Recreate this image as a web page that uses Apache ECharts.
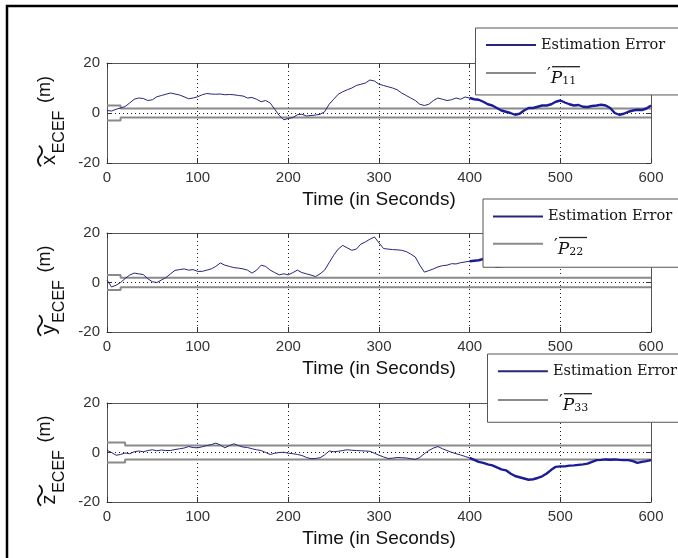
<!DOCTYPE html>
<html><head><meta charset="utf-8">
<script src="https://cdn.jsdelivr.net/npm/echarts@6/dist/echarts.min.js"></script>
<style>html,body{margin:0;padding:0;background:#fff}#c{width:678px;height:558px}</style>
</head><body><div id="c"></div>
<script>
// ---- data ----
const xTicks = [0, 100, 200, 300, 400, 500, 600];
const yTicks = [-20, 0, 20];
const timeSec = [
  0,5,10,15,20,25,30,35,40,45,
  50,55,60,65,70,75,80,85,90,95,
  100,105,110,115,120,125,130,135,140,145,
  150,155,160,165,170,175,180,185,190,195,
  200,205,210,215,220,225,230,235,240,245,
  250,255,260,265,270,275,280,285,290,295,
  300,305,310,315,320,325,330,335,340,345,
  350,355,360,365,370,375,380,385,390,395,
  400,405,410,415,420,425,430,435,440,445,
  450,455,460,465,470,475,480,485,490,495,
  500,505,510,515,520,525,530,535,540,545,
  550,555,560,565,570,575,580,585,590,595,
  600
];
const errX = [
  1.0,0.8,1.5,2.0,2.6,4.0,5.5,6.0,5.8,5.0,
  5.3,6.5,7.0,7.5,8.0,7.6,7.2,6.5,5.7,6.0,
  6.5,7.3,7.8,7.6,7.5,7.6,7.3,7.4,7.3,7.0,
  6.8,6.0,6.2,5.5,4.5,5.0,4.0,1.5,-1.0,-2.7,
  -2.2,-1.8,-0.7,-0.5,-1.2,-1.0,-0.8,-0.5,0.5,3.5,
  5.5,7.5,8.5,9.3,10.0,11.0,11.5,12.0,13.2,12.8,
  11.5,11.0,10.5,10.0,9.3,8.0,7.0,6.0,5.0,3.5,
  3.0,3.5,5.0,6.0,5.5,5.0,5.3,6.0,5.5,6.4,
  6.0,5.5,5.3,4.5,3.5,3.0,2.0,1.0,0.5,0.0,
  -0.7,-0.3,1.0,2.0,2.0,2.5,3.0,3.0,3.5,4.5,
  5.0,4.2,3.5,3.0,3.2,2.5,2.4,2.8,3.0,3.3,
  3.0,2.0,0.0,-0.7,-0.3,0.5,1.0,1.3,1.2,1.8,
  3.0
];
const errY = [
  1.0,-1.8,-1.1,0.0,1.6,3.0,3.8,3.5,3.2,1.5,
  0.3,0.0,1.0,2.0,3.5,4.9,5.2,5.5,5.0,5.2,
  4.5,4.5,5.0,5.5,6.5,7.9,7.0,6.5,6.0,5.8,
  5.5,5.0,3.8,5.0,7.0,6.5,5.0,4.0,3.1,3.5,
  3.1,4.0,5.0,4.0,3.5,3.0,2.4,3.5,5.0,8.0,
  11.0,13.5,15.0,14.0,13.0,13.5,15.5,16.4,17.5,18.4,
  16.0,13.7,13.5,13.3,13.2,13.0,12.5,11.5,10.3,7.0,
  4.2,4.8,5.5,6.3,6.8,7.0,7.6,7.5,8.0,8.3,
  8.6,8.8,9.0,9.5,9.0,7.0,6.3,6.5,6.8,7.0,
  8.0,8.5,9.0,9.3,9.5,9.8,10.0,9.8,9.5,9.8,
  10.0,9.5,9.0,8.8,8.5,8.8,9.0,9.3,9.5,9.8,
  10.0,9.5,9.0,8.8,8.5,8.8,9.0,9.3,9.5,9.2,
  9.0
];
const errZ = [
  0.9,0.0,-1.1,-0.8,-0.2,-0.5,0.3,0.6,0.3,0.8,
  1.1,0.7,1.0,0.8,0.8,1.2,1.5,1.8,2.4,2.0,
  1.9,2.3,2.8,3.2,3.8,3.0,1.9,2.8,3.5,2.8,
  2.2,2.0,1.5,1.1,0.8,0.0,-0.8,-0.3,0.0,0.1,
  -0.3,-0.5,-0.8,-1.2,-2.0,-2.5,-2.4,-2.1,-1.0,0.6,
  0.3,0.5,0.8,1.1,0.9,0.8,0.7,0.6,0.5,-0.3,
  -1.1,-1.8,-2.4,-2.3,-2.0,-2.1,-2.2,-2.5,-2.8,-2.0,
  -0.5,0.8,1.8,2.4,1.5,0.8,0.1,-0.5,-1.0,-1.6,
  -2.2,-3.0,-3.8,-4.2,-4.8,-5.2,-6.0,-6.8,-7.2,-8.5,
  -9.5,-10.0,-10.5,-11.0,-10.8,-10.3,-9.6,-8.5,-7.0,-5.8,
  -5.6,-5.6,-5.3,-5.2,-5.0,-4.8,-4.5,-3.8,-3.1,-3.0,
  -2.8,-2.9,-2.8,-3.0,-3.1,-3.1,-3.5,-4.2,-3.8,-3.5,
  -3.1
];
// sqrt(P) bound (step changes after initial convergence)
const boundTimeX = [0, 15, 600];
const boundX = [3.0, 1.8, 1.8];
const boundTimeY = [0, 15, 600];
const boundY = [3.0, 1.9, 1.9];
const boundTimeZ = [0, 20, 600];
const boundZ = [4.0, 2.8, 2.8];
const axisLetters = ['x', 'y', 'z'];
const boundNames = ['√P11', '√P22', '√P33'];
const boundSubs = ['11', '22', '33'];
const errName = 'Estimation Error';
const xTitle = 'Time (in Seconds)';
const thickFrom = 80; // index of t=400, after which the trace is drawn heavier

// ---- layout ----
const grids = [
  {left: 107, top: 63, width: 544, height: 100},
  {left: 107, top: 233, width: 544, height: 99},
  {left: 107, top: 403, width: 544, height: 99}
];
const legendPos = [
  {left: 475.5, top: 28, padding: [9, 60, 7.4, 9.5], itemGap: 10.7},
  {left: 483, top: 199, padding: [9.5, 60, 8.9, 9], itemGap: 10},
  {left: 487.5, top: 354, padding: [9.3, 60, 7.7, 9.4], itemGap: 11.4}
];

const errs = [errX, errY, errZ];
const bTimes = [boundTimeX, boundTimeY, boundTimeZ];
const bVals = [boundX, boundY, boundZ];

const sans = 'Liberation Sans, Arial, sans-serif';
const serif = 'DejaVu Serif, serif';
const cjk = 'Noto Sans CJK JP, sans-serif';
const hidden = {opacity: 0, color: 'rgba(0,0,0,0)', borderWidth: 0};
const ink = '#111';
const clear = 'rgba(0,0,0,0)';

const yNameRich = {
  p0: {fontSize: 4, width: 4, height: 5, lineHeight: 5, color: clear},
  t:  {fontSize: 24, width: 12, align: 'center', height: 0.4, lineHeight: 5, verticalAlign: 'bottom', fontFamily: cjk, color: ink},
  r1: {fontSize: 4, width: 76, height: 5, lineHeight: 5, color: clear},
  x:  {fontSize: 20, width: 12, align: 'center', height: 20, lineHeight: 20, fontFamily: sans, color: ink},
  s:  {fontSize: 16, width: 44, height: 1, lineHeight: 1, verticalAlign: 'bottom', fontFamily: sans, color: ink},
  m:  {fontSize: 18, width: 36, height: 10, lineHeight: 10, verticalAlign: 'top', fontFamily: sans, color: ink}
};
const legendRich = {
  e:  {width: 4, height: 2, lineHeight: 2, fontSize: 2, color: clear},
  g:  {width: 11, height: 6, lineHeight: 6, fontSize: 6, color: clear},
  ol: {width: 28, height: 1.3, lineHeight: 6, verticalAlign: 'top', backgroundColor: '#222', fontSize: 6, color: clear},
  g2: {width: 6, height: 10, lineHeight: 10, fontSize: 8, color: clear},
  pr: {fontSize: 17, height: 6, lineHeight: 6, verticalAlign: 'top', fontFamily: serif, color: ink},
  p:  {fontSize: 17, height: 6, lineHeight: 6, verticalAlign: 'bottom', fontStyle: 'italic', fontFamily: serif, color: ink},
  s:  {fontSize: 11, height: 1, lineHeight: 1, verticalAlign: 'bottom', fontFamily: serif, color: ink}
};

const xAxes = [], yAxes = [], series = [], legends = [];
grids.forEach((g, i) => {
  xAxes.push({
    gridIndex: i, type: 'value', min: 0, max: 600, interval: 100, position: 'bottom',
    axisLine: {show: true, onZero: false, lineStyle: {color: '#555', width: 1}},
    axisTick: {show: true, inside: true, length: 5, lineStyle: {color: '#333'}},
    axisLabel: {color: '#333', fontSize: 15, fontFamily: sans, margin: 7,
      customValues: xTicks, formatter: v => String(v)},
    splitLine: {show: true, lineStyle: {type: [1, 3], color: '#222', width: 1}},
    name: xTitle, nameLocation: 'middle', nameGap: 27,
    nameTextStyle: {color: ink, fontSize: 19, fontFamily: sans}
  });
  xAxes.push({
    gridIndex: i, type: 'value', min: 0, max: 600, interval: 100, position: 'top',
    axisLine: {show: true, onZero: false, lineStyle: {color: '#555', width: 1}},
    axisTick: {show: true, inside: true, length: 5, lineStyle: {color: '#333'}},
    axisLabel: {show: false}, splitLine: {show: false}
  });
  yAxes.push({
    gridIndex: i, type: 'value', min: -20, max: 20, interval: 20, position: 'left',
    axisLine: {show: true, onZero: false, lineStyle: {color: '#555', width: 1}},
    axisTick: {show: true, inside: true, length: 5, lineStyle: {color: '#333'}},
    axisLabel: {color: '#333', fontSize: 15, fontFamily: sans, margin: 7,
      customValues: yTicks, formatter: v => String(v)},
    splitLine: {show: true, lineStyle: {type: [1, 3], color: '#222', width: 1}},
    name: '{p0|.}{t|〜}{r1|.}\n{x|' + axisLetters[i] + '}{s|ECEF}{m| (m)}',
    nameLocation: 'middle', nameRotate: 90, nameGap: 43,
    nameTextStyle: {color: ink, fontFamily: sans, fontSize: 17, padding: [0, 14, 0, 0], rich: yNameRich}
  });
  yAxes.push({
    gridIndex: i, type: 'value', min: -20, max: 20, interval: 20, position: 'right',
    axisLine: {show: true, onZero: false, lineStyle: {color: '#555', width: 1}},
    axisTick: {show: true, inside: true, length: 5, lineStyle: {color: '#333'}},
    axisLabel: {show: false}, splitLine: {show: false}
  });

  const e = errs[i];
  const pts = timeSec.map((t, k) => [t, e[k]]);
  const up = bTimes[i].map((t, k) => [t, bVals[i][k]]);
  const lo = bTimes[i].map((t, k) => [t, -bVals[i][k]]);
  const common = {type: 'line', xAxisIndex: i * 2, yAxisIndex: i * 2, symbol: 'none',
    showSymbol: false, animation: false, silent: true};
  series.push(Object.assign({}, common, {name: boundNames[i], data: up, step: 'end',
    lineStyle: {color: '#8a8a8a', width: 2}, itemStyle: {color: '#8a8a8a'}, z: 2}));
  series.push(Object.assign({}, common, {name: boundNames[i], data: lo, step: 'end',
    lineStyle: {color: '#8a8a8a', width: 2}, itemStyle: {color: '#8a8a8a'}, z: 2}));
  series.push(Object.assign({}, common, {name: errName, data: pts.slice(0, thickFrom + 1),
    lineStyle: {color: '#26267a', width: 1}, itemStyle: {color: '#26267a'}, z: 3}));
  series.push(Object.assign({}, common, {name: errName, data: pts.slice(thickFrom),
    lineStyle: {color: '#1c1c96', width: 2.4}, itemStyle: {color: '#1c1c96'}, z: 3}));

  const lp = legendPos[i];
  legends.push({
    orient: 'vertical', left: lp.left, top: lp.top, padding: lp.padding, itemGap: lp.itemGap,
    itemWidth: 50, itemHeight: 20, backgroundColor: '#fff', borderColor: '#555', borderWidth: 1,
    borderRadius: 0, selectedMode: false, z: 10,
    itemStyle: hidden,
    data: [
      {name: errName, itemStyle: hidden},
      {name: boundNames[i], itemStyle: hidden}
    ],
    formatter: (n) => n === errName ? n :
      '{e|.}\n{g|.}{ol|.}\n{g2|.}{pr|′}{p|P}{s|' + boundSubs[i] + '}',
    textStyle: {fontFamily: serif, fontSize: 14.5, color: ink, rich: legendRich}
  });
});

const chart = echarts.init(document.getElementById('c'), null, {renderer: 'canvas'});
chart.setOption({
  backgroundColor: '#fff',
  animation: false,
  grid: grids.map(g => Object.assign({show: false}, g)),
  xAxis: xAxes,
  yAxis: yAxes,
  legend: legends,
  series: series,
  graphic: [{
    type: 'rect', silent: true, z: 100,
    shape: {x: 7, y: 6, width: 720, height: 620},
    style: {fill: null, stroke: '#000', lineWidth: 2.5}
  }]
});
</script>
</body></html>
